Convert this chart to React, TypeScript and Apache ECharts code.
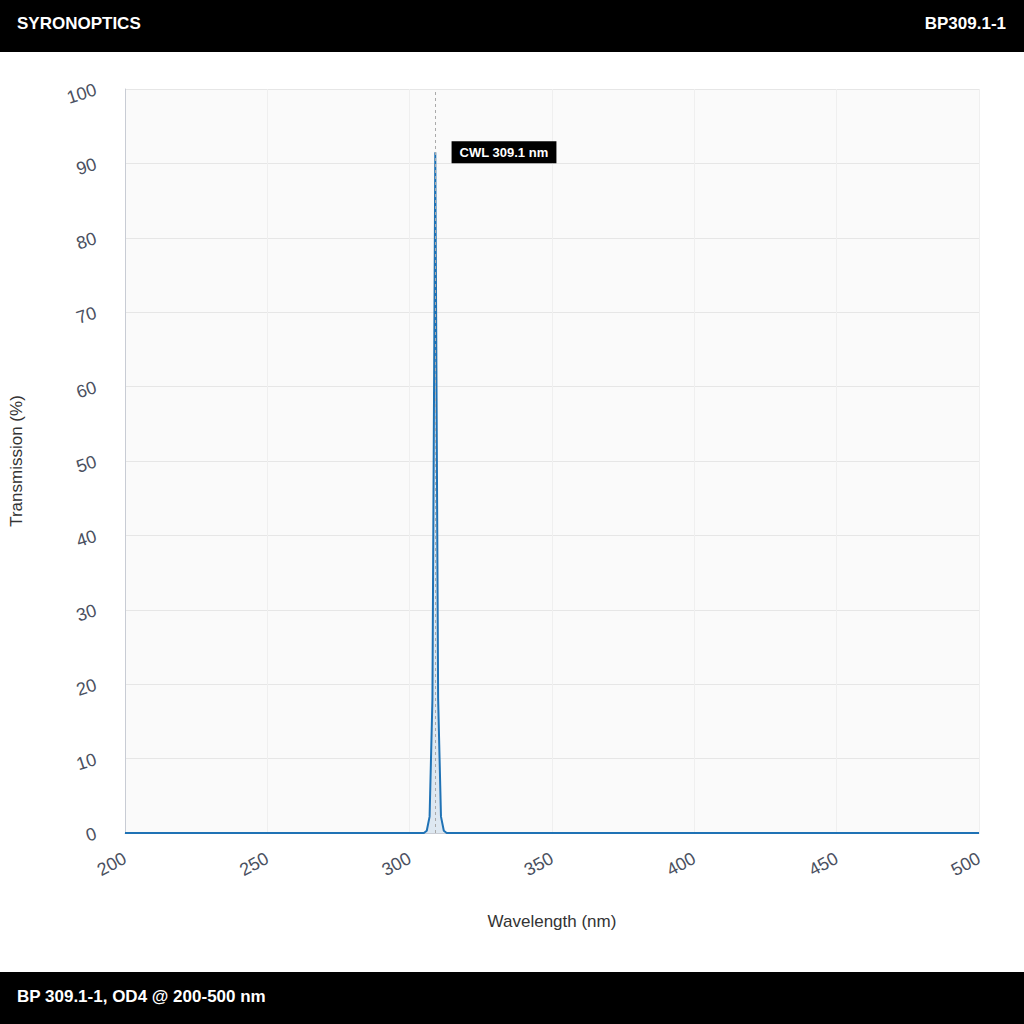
import React, { useEffect, useRef } from "react";
import * as echarts from "echarts";

// Measured transmission curve (nm, %)
const wavelengths = [200, 305, 306, 307, 308, 309, 310, 311, 312, 313, 500];
const transmission = [0, 0, 0.3, 2.2, 18, 91.5, 18, 2.2, 0.3, 0, 0];

const xTicks = [200, 250, 300, 350, 400, 450, 500];
const yTicks = [0, 10, 20, 30, 40, 50, 60, 70, 80, 90, 100];

const cwl = 309.1;
const peakValue = 91.5;

const App: React.FC = () => {
  const chartRef = useRef<HTMLDivElement>(null);

  useEffect(() => {
    document.body.style.margin = "0";
    if (!chartRef.current) return;

    const chart = echarts.init(chartRef.current, null, { renderer: "svg" });
    const font = "'Helvetica Neue', Arial, 'Liberation Sans', sans-serif";

    chart.setOption({
      animation: false,
      textStyle: { fontFamily: font },
      grid: {
        left: 125,
        right: 45,
        top: 89,
        bottom: 191,
        show: true,
        backgroundColor: "#fafafa",
        borderWidth: 0,
      },
      xAxis: {
        type: "value",
        min: xTicks[0],
        max: xTicks[xTicks.length - 1],
        interval: 50,
        name: "Wavelength (nm)",
        nameLocation: "middle",
        nameGap: 80,
        nameTextStyle: { fontSize: 17, color: "#333" },
        axisLine: { lineStyle: { color: "#c8ccd4" } },
        axisTick: { show: false },
        axisLabel: {
          rotate: 28,
          fontSize: 18,
          color: "#4a5060",
          margin: 24,
        },
        splitLine: { show: true, lineStyle: { color: "#efefef" } },
      },
      yAxis: {
        type: "value",
        min: yTicks[0],
        max: yTicks[yTicks.length - 1],
        interval: 10,
        name: "Transmission (%)",
        nameLocation: "middle",
        nameGap: 100,
        nameTextStyle: { fontSize: 17, color: "#333" },
        axisLine: { show: true, lineStyle: { color: "#c8ccd4" } },
        axisTick: { show: false },
        axisLabel: {
          rotate: 18,
          fontSize: 18,
          color: "#4a5060",
          margin: 29,
        },
        splitLine: { show: true, lineStyle: { color: "#e6e6e6" } },
      },
      series: [
        {
          type: "line",
          data: wavelengths.map((w, i) => [w, transmission[i]]),
          showSymbol: false,
          lineStyle: { color: "#1f72b5", width: 2 },
          itemStyle: { color: "#1f72b5" },
          areaStyle: { color: "rgba(31,114,181,0.18)" },
          markLine: {
            silent: true,
            symbol: "none",
            label: { show: false },
            lineStyle: { color: "#aaa", type: [3, 3], width: 1 },
            data: [{ xAxis: cwl }],
          },
          markPoint: {
            silent: true,
            symbol: "rect",
            symbolSize: 0,
            data: [{ coord: [cwl, peakValue] }],
            label: {
              show: true,
              position: "right",
              distance: 16,
              formatter: `CWL ${cwl} nm`,
              backgroundColor: "#000",
              color: "#fff",
              fontWeight: "bold",
              fontSize: 13,
              padding: [5, 8, 4, 8],
            },
          },
        },
      ],
      graphic: [
        {
          type: "rect",
          left: 0,
          top: 0,
          shape: { width: 1024, height: 52 },
          style: { fill: "#000" },
        },
        {
          type: "text",
          left: 17,
          top: 15,
          style: {
            text: "SYRONOPTICS",
            fill: "#fff",
            font: `bold 17px ${font}`,
          },
        },
        {
          type: "text",
          right: 18,
          top: 15,
          style: {
            text: "BP309.1-1",
            fill: "#fff",
            font: `bold 17px ${font}`,
          },
        },
        {
          type: "rect",
          left: 0,
          top: 972,
          shape: { width: 1024, height: 52 },
          style: { fill: "#000" },
        },
        {
          type: "text",
          left: 17,
          top: 988,
          style: {
            text: "BP 309.1-1, OD4 @ 200-500 nm",
            fill: "#fff",
            font: `bold 17px ${font}`,
          },
        },
      ],
    });

    return () => {
      chart.dispose();
    };
  }, []);

  return <div ref={chartRef} style={{ width: 1024, height: 1024 }} />;
};

export default App;
